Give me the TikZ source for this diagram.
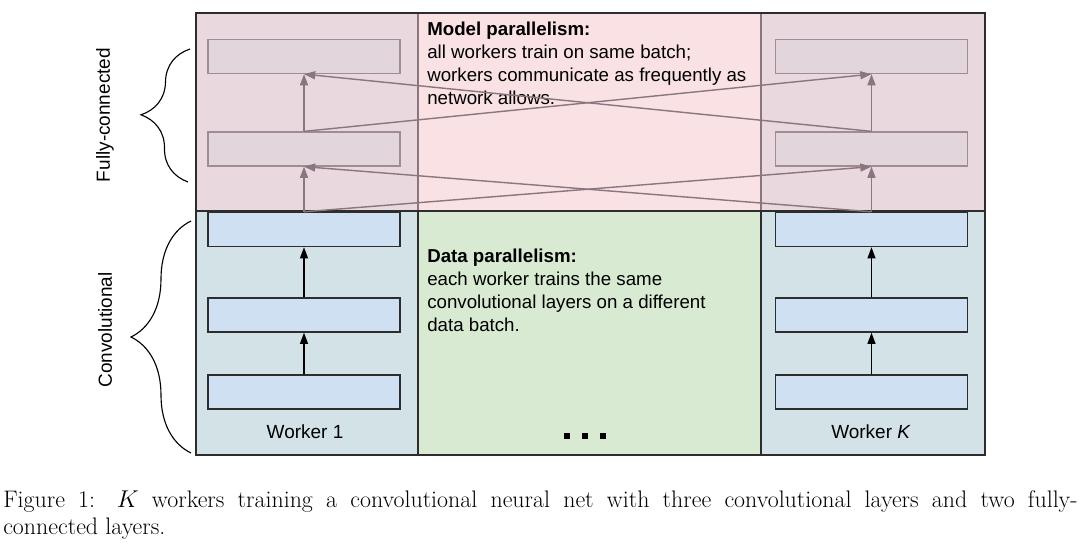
\documentclass[tikz,border=0pt]{standalone}
\usepackage{fontspec}
\newfontfamily\diagfont{Liberation Sans}
\usetikzlibrary{decorations.pathreplacing, arrows.meta}

\definecolor{pinkmid}{RGB}{249,225,228}
\definecolor{pinkcol}{RGB}{233,216,221}
\definecolor{fcfill}{RGB}{227,213,220}
\definecolor{fcline}{RGB}{160,140,148}
\definecolor{linkgray}{RGB}{138,118,126}
\definecolor{greenmid}{RGB}{217,234,211}
\definecolor{bluecol}{RGB}{211,226,231}
\definecolor{convfill}{RGB}{207,224,243}
\definecolor{framecol}{RGB}{45,45,45}

\begin{document}
\begin{tikzpicture}[x=0.025cm, y=-0.025cm]
        \tikzstyle{every node}=[inner sep=0pt]
        \tikzstyle{fclayer}=[draw=fcline, fill=fcfill, line width=0.9pt, minimum width=4.8cm, minimum height=0.85cm]
        \tikzstyle{convlayer}=[draw=framecol, fill=convfill, line width=1pt, minimum width=4.8cm, minimum height=0.85cm]
        \tikzstyle{fwd}=[-{Triangle[length=2.8mm, width=2mm]}, draw=black, line width=0.9pt]
        \tikzstyle{link}=[-{Triangle[length=2.8mm, width=2mm]}, draw=linkgray, line width=1pt]
        \tikzstyle{note}=[anchor=north west, align=left, font=\diagfont\fontsize{13.3}{16.2}\selectfont]
        \tikzstyle{side}=[rotate=90, font=\diagfont\fontsize{13.5}{16}\selectfont]
        \tikzstyle{dotbox}=[fill=black, minimum size=0.15cm]

        \useasboundingbox (0,0) rectangle (1080,548);

% model parallel part (top) and data parallel part (bottom)
        \fill[pinkmid] (196,13) rectangle (985,211);
        \fill[pinkcol] (196,13) rectangle (418,211);
        \fill[pinkcol] (761,13) rectangle (985,211);
        \fill[greenmid] (196,211) rectangle (985,455);
        \fill[bluecol] (196,211) rectangle (418,455);
        \fill[bluecol] (761,211) rectangle (985,455);
        \draw[linkgray, line width=0.9pt] (418,13) -- (418,211) (761,13) -- (761,211);
        \draw[framecol, line width=1.1pt] (418,211) -- (418,455) (761,211) -- (761,455);
        \draw[framecol, line width=1.3pt] (196,211) -- (985,211);
        \draw[framecol, line width=1.5pt] (196,13) rectangle (985,455);

        \node[note] (modelText) at (427,22) {\textbf{Model parallelism:}\\all workers train on same batch;\\workers communicate as frequently as\\network allows.};
        \node[note] (dataText) at (427,249) {\textbf{Data parallelism:}\\each worker trains the same\\convolutional layers on a different\\data batch.};

% worker 1
        \node[convlayer] (conv1L) at (304,392) {};
        \node[convlayer] (conv2L) at (304,315) {};
        \node[convlayer] (conv3L) at (304,229.5) {};
        \node[fclayer] (fc1L) at (304,149) {};
        \node[fclayer] (fc2L) at (304,56.5) {};
        \node[font=\diagfont\fontsize{13.5}{16}\selectfont] (worker1) at (305,432) {Worker 1};

% worker K
        \node[convlayer] (conv1R) at (871.5,392) {};
        \node[convlayer] (conv2R) at (871.5,315) {};
        \node[convlayer] (conv3R) at (871.5,229.5) {};
        \node[fclayer] (fc1R) at (871.5,149) {};
        \node[fclayer] (fc2R) at (871.5,56.5) {};
        \node[font=\diagfont\fontsize{13.5}{16}\selectfont] (workerK) at (871,432) {Worker \textit{K}};

        \draw[fwd] (conv1L.north) -- (conv2L.south);
        \draw[fwd] (conv2L.north) -- (conv3L.south);
        \draw[fwd] (conv1R.north) -- (conv2R.south);
        \draw[fwd] (conv2R.north) -- (conv3R.south);

        \draw[link] (conv3L.north) -- (fc1L.south);
        \draw[link] (conv3R.north) -- (fc1R.south);
        \draw[link] (conv3L.north) -- (fc1R.south);
        \draw[link] (conv3R.north) -- (fc1L.south);
        \draw[link] (fc1L.north) -- (fc2L.south);
        \draw[link] (fc1R.north) -- (fc2R.south);
        \draw[link] (fc1L.north) -- (fc2R.south);
        \draw[link] (fc1R.north) -- (fc2L.south);

        \node[dotbox] (dot1) at (567,436) {};
        \node[dotbox] (dot2) at (585,436) {};
        \node[dotbox] (dot3) at (603,436) {};

% braces on the left
        \coordinate (fcBot) at (188,182);
        \coordinate (fcTop) at (190,49);
        \coordinate (convBot) at (191,453);
        \coordinate (convTop) at (191,221);
        \draw[decorate, decoration={brace, amplitude=1.2cm}, line width=0.8pt] (fcBot) -- (fcTop);
        \draw[decorate, decoration={brace, amplitude=1.5cm}, line width=0.8pt] (convBot) -- (convTop);
        \node[side] (fcLabel) at (105,115) {Fully-connected};
        \node[side] (convLabel) at (105,330) {Convolutional};

        \node[anchor=north west, text width=26.85cm, align=justify, font=\fontsize{17}{19.2}\selectfont] (caption) at (3,490) {Figure 1: $K$ workers training a convolutional neural net with three convolutional layers and two fully-\linebreak connected layers.};

    \end{tikzpicture}
\end{document}
